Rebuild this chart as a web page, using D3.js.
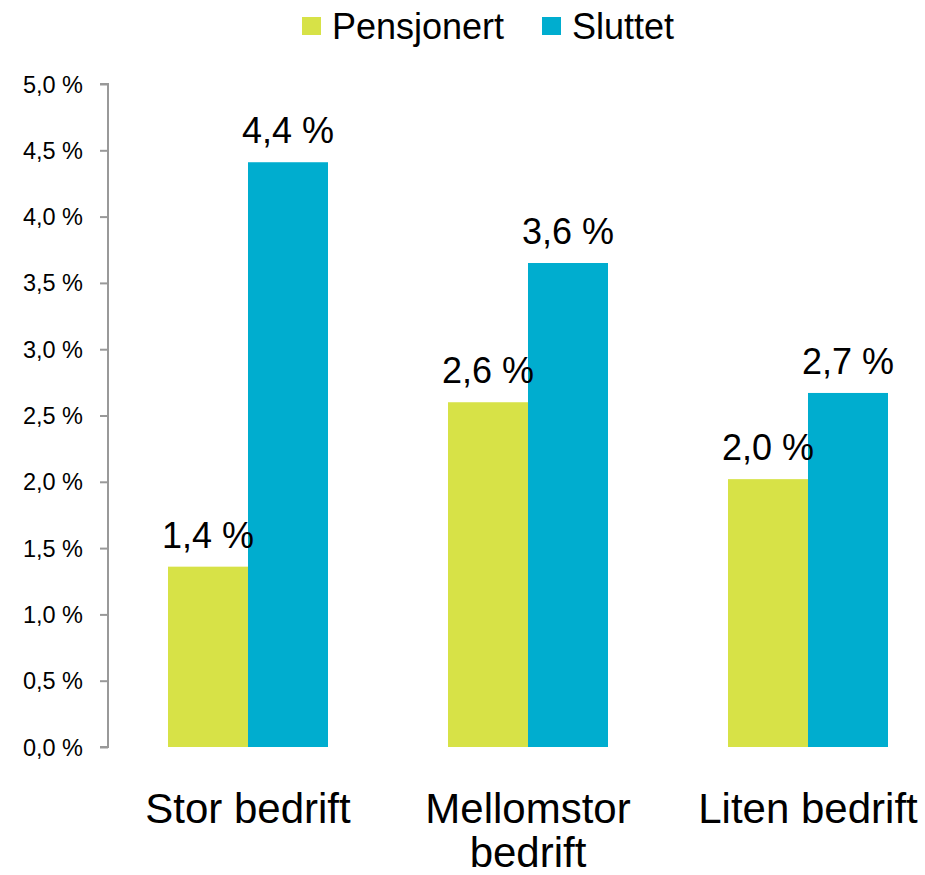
<!DOCTYPE html>
<html>
<head>
<meta charset="utf-8">
<script src="https://cdn.jsdelivr.net/npm/d3@7"></script>
<style>
  body { margin: 0; background: #fff; }
  text { font-family: "Liberation Sans", Arial, sans-serif; fill: #000; }
</style>
</head>
<body>
<div id="chart"></div>
<script>
// data
const categories = ["Stor bedrift", "Mellomstor bedrift", "Liten bedrift"];
const seriesNames = ["Pensjonert", "Sluttet"];
const pensjonert = [1.36, 2.60, 2.02];
const sluttet = [4.41, 3.65, 2.67];
const valueLabels = {
  Pensjonert: ["1,4 %", "2,6 %", "2,0 %"],
  Sluttet: ["4,4 %", "3,6 %", "2,7 %"]
};
const yTicks = [0, 0.5, 1, 1.5, 2, 2.5, 3, 3.5, 4, 4.5, 5];
const colors = ["#d7e247", "#00adcf"];

const rows = categories.map((c, i) => ({ cat: c, Pensjonert: pensjonert[i], Sluttet: sluttet[i] }));

const W = 925, H = 875;
const left = 108, plotTop = 84, plotBottom = 747;

const svg = d3.select("#chart").append("svg")
  .attr("width", W)
  .attr("height", H);

// scales
const y = d3.scaleLinear().domain([0, 5]).range([plotBottom, plotTop]);
const x = d3.scaleBand().domain(categories).range([left, left + 840])
  .paddingInner(120 / 280).paddingOuter(60 / 280);
const xSub = d3.scaleBand().domain(seriesNames).range([0, x.bandwidth()]).padding(0);
const color = d3.scaleOrdinal().domain(seriesNames).range(colors);

// y axis
const yAxis = svg.append("g")
  .attr("transform", `translate(${left},0)`)
  .call(d3.axisLeft(y).tickValues(yTicks).tickSize(8).tickPadding(17)
    .tickFormat(d => d3.format(".1f")(d).replace(".", ",") + " %"));
yAxis.selectAll("path, line").attr("stroke", "#999").attr("stroke-width", 2);
yAxis.select(".domain").attr("d", `M${-8},${y(5)}H0V${y(0)}H${-8}`);
yAxis.selectAll("text")
  .style("font-family", "'Liberation Sans', Arial, sans-serif")
  .style("font-size", "23.5px")
  .attr("dy", "0.34em")
  .attr("fill", "#000");

// bars
const groups = svg.append("g").selectAll("g")
  .data(rows)
  .join("g")
  .attr("transform", d => `translate(${x(d.cat)},0)`);

groups.selectAll("rect")
  .data(d => seriesNames.map(k => ({ key: k, value: d[k] })))
  .join("rect")
  .attr("x", d => xSub(d.key))
  .attr("y", d => y(d.value))
  .attr("width", xSub.bandwidth())
  .attr("height", d => y(0) - y(d.value))
  .attr("fill", d => color(d.key));

// value labels
groups.selectAll("text.val")
  .data((d, i) => seriesNames.map(k => ({ key: k, value: d[k], label: valueLabels[k][i] })))
  .join("text")
  .attr("class", "val")
  .attr("x", d => xSub(d.key) + xSub.bandwidth() / 2)
  .attr("y", d => y(d.value) - 19)
  .attr("text-anchor", "middle")
  .style("font-size", "36px")
  .text(d => d.label);

// category labels, wrapped to band step
const catLabels = svg.append("g").selectAll("text")
  .data(categories)
  .join("text")
  .attr("x", d => x(d) + x.bandwidth() / 2)
  .attr("y", 823)
  .attr("text-anchor", "middle")
  .style("font-size", "42px")
  .text(d => d);

catLabels.each(function (d) {
  const t = d3.select(this);
  if (this.getComputedTextLength() > x.step()) {
    const words = d.split(" ");
    t.text(null);
    const cx = x(d) + x.bandwidth() / 2;
    words.forEach((w, i) => {
      t.append("tspan").attr("x", cx).attr("dy", i === 0 ? 0 : 44).text(w);
    });
  }
});

// legend
const legendX = [302, 542];
const legend = svg.append("g").selectAll("g")
  .data(seriesNames)
  .join("g")
  .attr("transform", (d, i) => `translate(${legendX[i]},17)`);
legend.append("rect")
  .attr("width", 19)
  .attr("height", 18)
  .attr("fill", d => color(d));
legend.append("text")
  .attr("x", 30)
  .attr("y", 22)
  .style("font-size", "36px")
  .text(d => d);
</script>
</body>
</html>
